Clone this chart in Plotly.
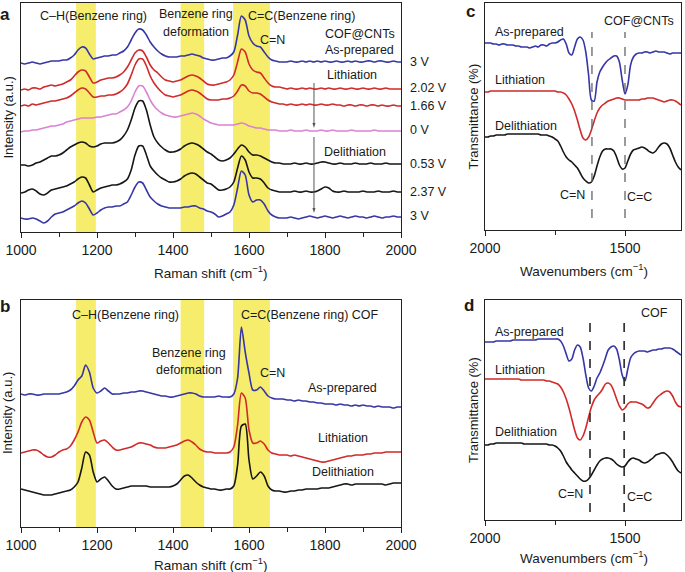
import plotly.graph_objects as go

# x grids
raman_shift = list(range(1000, 2001, 10))
wavenumber = list(range(2000, 1299, -10))

# ---- panel a: COF@CNTs Raman, stacked (a.u.)
a_3v_start = [169,168,169,170,169,168,169,170,171,171,
              171,172,172,174,177,182,185,184,178,173,
              174,175,176,176,177,177,179,181,185,192,
              199,203,202,197,190,185,181,178,176,175,
              175,175,176,176,177,178,177,176,174,173,
              172,172,173,174,174,176,180,197,216,212,
              196,189,186,185,180,175,172,171,170,170,
              170,171,170,170,171,170,171,170,171,170,
              171,170,170,171,170,170,171,170,171,170,
              170,171,171,170,171,171,170,170,171,170,
              170]
a_2v02 = [142,143,142,144,144,143,145,146,147,146,
          147,148,150,152,156,160,162,161,155,149,
          150,152,153,154,154,155,157,160,165,172,
          179,182,181,175,167,162,159,155,152,151,
          150,151,152,154,156,157,156,154,151,148,
          147,147,148,149,150,152,157,170,183,180,
          168,162,160,159,154,149,146,145,145,144,
          143,144,143,143,144,143,144,143,143,144,
          143,144,143,143,144,143,143,144,143,143,
          144,143,143,144,143,143,144,143,143,143,
          143]
a_1v66 = [126,127,126,128,127,128,129,130,131,131,
          132,133,134,136,139,142,144,143,139,135,
          135,136,136,137,137,138,140,143,148,157,
          167,173,173,166,156,149,144,140,137,136,
          135,136,137,139,141,142,141,139,136,133,
          132,132,132,133,133,134,136,141,147,146,
          141,139,139,138,135,132,130,129,128,128,
          127,128,127,127,128,127,128,127,127,128,
          127,127,128,127,127,126,127,127,126,127,
          127,126,127,127,126,127,126,126,127,126,
          126]
a_0v = [100,101,101,102,102,103,104,105,106,106,
        107,108,110,111,112,113,114,114,114,114,
        115,115,116,117,118,118,120,122,125,131,
        140,146,146,140,132,126,122,119,117,116,
        115,115,116,117,118,119,118,116,113,111,
        109,108,107,107,107,107,107,108,109,108,
        106,105,104,104,103,102,102,102,101,101,
        101,102,101,101,101,102,101,101,101,102,
        101,101,102,101,101,101,101,102,101,101,
        101,101,101,102,101,101,101,101,101,101,
        101]
a_0v53 = [67,67,66,67,69,70,72,74,76,76,
          77,79,82,85,87,89,90,89,86,85,
          86,88,89,89,89,90,92,96,102,112,
          124,131,131,122,107,95,89,85,82,80,
          80,81,83,86,88,89,88,86,83,80,
          78,75,72,71,72,74,78,83,87,85,
          80,77,77,76,74,72,70,69,69,68,
          68,68,69,68,68,69,68,68,69,70,
          70,69,68,68,69,68,68,68,69,68,
          68,68,69,68,68,68,69,68,68,68,
          68]
a_2v37 = [39,40,42,43,41,38,37,39,42,43,
          44,45,46,48,50,53,55,54,47,40,
          42,44,45,46,47,47,48,50,53,62,
          77,86,86,77,66,61,57,54,52,50,
          50,51,53,56,58,59,58,55,52,49,
          48,45,42,42,43,45,50,64,76,72,
          60,54,54,53,49,44,42,41,40,40,
          40,40,41,40,40,41,40,40,41,43,
          45,44,41,40,40,41,40,40,40,40,
          41,40,40,40,41,40,40,40,41,40,
          40]
a_3v_end = [14,13,13,14,13,11,9,11,15,18,
            19,20,22,24,26,29,31,29,23,17,
            19,22,24,25,25,26,26,28,30,37,
            45,50,49,42,35,31,28,26,25,24,
            24,24,24,25,25,26,26,24,23,21,
            20,18,15,16,18,20,27,44,61,57,
            37,30,32,32,28,21,17,15,14,14,
            14,15,14,13,14,15,16,15,14,15,
            16,15,14,15,16,15,14,15,16,15,
            15,14,15,16,15,14,15,15,16,15,
            15]
a_voltages = ["3 V", "2.02 V", "1.66 V", "0 V", "0.53 V", "2.37 V", "3 V"]

# ---- panel b: COF Raman
b_asprep = [133,132,133,133,132,132,133,133,133,133,
            133,134,135,137,141,147,151,162,155,139,
            134,136,139,136,133,133,133,134,134,135,
            135,136,136,135,134,133,132,131,131,130,
            130,131,132,133,134,134,133,131,130,130,
            130,130,131,130,130,130,133,149,200,175,
            154,137,137,140,136,131,129,128,128,128,
            127,127,126,127,126,126,125,125,124,124,
            123,123,123,122,123,122,122,121,122,121,
            122,121,121,120,121,120,120,120,119,120,
            120]
b_lith = [74,75,76,77,77,75,72,70,70,72,
          75,77,78,81,87,95,105,110,107,95,
          84,86,87,84,80,77,77,78,79,80,
          82,84,84,83,82,80,79,79,79,80,
          81,82,84,86,87,85,82,78,76,75,
          75,74,74,74,74,75,80,102,134,129,
          97,84,84,86,83,77,74,73,72,72,
          72,71,72,71,70,69,68,67,66,65,
          65,66,67,68,69,70,71,71,72,72,
          72,73,73,74,74,74,75,75,75,75,
          75]
b_delith = [38,37,36,35,34,33,32,32,32,33,
            34,35,36,37,40,45,59,75,72,55,
            45,48,50,46,41,38,38,39,40,41,
            41,41,41,41,40,40,40,40,40,40,
            41,43,47,51,52,49,45,42,40,39,
            38,38,37,37,38,38,41,62,101,103,
            67,48,51,55,51,41,37,36,36,35,
            35,36,36,37,37,38,38,38,38,39,
            39,39,40,41,42,43,43,42,43,43,
            43,43,43,43,43,43,42,43,44,44,
            44]

# ---- panel c: COF@CNTs FTIR
c_asprep = [187,187,187,186,186,185,186,186,185,185,
            185,184,184,183,183,183,182,183,184,183,
            185,185,184,186,187,187,188,190,191,186,
            177,175,183,191,193,190,178,155,130,129,
            148,158,163,167,170,172,174,174,168,150,
            136,145,165,173,176,177,177,178,178,177,
            178,179,178,178,178,177,176,177,177,177,
            177]
c_lith = [138,138,139,139,139,139,139,139,139,139,
          139,139,139,139,139,139,139,139,139,139,
          139,139,139,139,139,139,138,138,137,135,
          131,126,119,110,100,92,90,93,100,109,
          117,122,125,127,129,130,131,132,132,131,
          130,130,130,130,130,130,131,131,132,132,
          132,131,130,129,128,129,130,130,129,127,
          125]
c_delith = [93,93,94,94,95,95,95,95,96,96,
            96,96,96,96,96,96,96,96,96,96,
            95,95,95,94,93,91,89,84,78,73,
            70,68,65,62,57,52,49,47,48,54,
            64,73,79,81,81,81,79,73,65,61,
            62,69,76,80,81,82,83,82,80,78,
            77,79,83,86,87,86,82,75,68,63,
            60]

# ---- panel d: COF FTIR
d_asprep = [178,178,178,178,179,179,179,179,179,179,
            180,180,180,180,180,180,180,180,180,181,
            181,181,181,181,181,181,181,179,174,166,
            159,161,170,175,173,162,145,132,129,134,
            142,147,154,162,170,173,174,171,160,145,
            139,151,162,166,168,169,169,169,168,169,
            170,170,171,171,172,172,172,171,169,167,
            165]
d_lith = [141,141,141,141,141,141,141,141,141,141,
          141,141,141,140,140,140,140,140,140,140,
          140,140,139,139,138,137,136,133,128,121,
          112,101,90,82,80,84,92,103,113,120,
          124,127,131,136,137,135,129,121,114,110,
          112,116,118,118,118,117,116,114,112,113,
          117,121,124,126,128,129,128,124,118,114,
          113]
d_delith = [75,75,76,76,77,77,77,77,77,77,
            77,77,77,77,76,76,76,76,76,76,
            76,76,76,75,75,74,72,69,64,58,
            54,50,47,44,41,39,39,41,45,50,
            55,59,61,62,62,61,59,56,54,53,
            54,58,61,62,61,60,58,57,58,60,
            62,65,66,67,67,65,62,58,53,49,
            47]

raman_bands = [(1145, 1197), (1420, 1482), (1558, 1655)]
ir_lines_c = [1618, 1500]
ir_lines_d = [1625, 1503]

for s in [a_3v_start, a_2v02, a_1v66, a_0v, a_0v53, a_2v37, a_3v_end, b_asprep, b_lith, b_delith]:
    assert len(s) == len(raman_shift), len(s)
for s in [c_asprep, c_lith, c_delith, d_asprep, d_lith, d_delith]:
    assert len(s) == len(wavenumber), len(s)

BLUE = '#3636a6'
RED = '#d02a2a'
PINK = '#d983d2'
BLACK = '#161616'
YELLOW = '#f6ed6c'
FONT = 'Arial, Liberation Sans, Helvetica, sans-serif'

fig = go.Figure()

def add_line(x, y, color, xa, ya):
    fig.add_trace(go.Scatter(x=x, y=y, mode='lines', xaxis=xa, yaxis=ya,
                             line=dict(color=color, width=1.6, shape='spline', smoothing=0.7),
                             hoverinfo='skip'))

for y, c in zip([a_3v_start, a_2v02, a_1v66, a_0v, a_0v53, a_2v37, a_3v_end],
                [BLUE, RED, RED, PINK, BLACK, BLACK, BLUE]):
    add_line(raman_shift, y, c, 'x', 'y')
for y, c in zip([b_asprep, b_lith, b_delith], [BLUE, RED, BLACK]):
    add_line(raman_shift, y, c, 'x2', 'y2')
for y, c in zip([c_asprep, c_lith, c_delith], [BLUE, RED, BLACK]):
    add_line(wavenumber, y, c, 'x3', 'y3')
for y, c in zip([d_asprep, d_lith, d_delith], [BLUE, RED, BLACK]):
    add_line(wavenumber, y, c, 'x4', 'y4')

W, H = 685, 572
def px(v):
    return v / W
def py(v):
    return 1 - v / H

shapes = []
for xr in ['x', 'x2']:
    for lo, hi in raman_bands:
        shapes.append(dict(type='rect', xref=xr, yref=xr.replace('x', 'y') + ' domain',
                           x0=lo, x1=hi, y0=0, y1=1, fillcolor=YELLOW,
                           line=dict(width=0), layer='below'))
for w in ir_lines_c:
    shapes.append(dict(type='line', xref='x3', yref='y3', x0=w, x1=w, y0=12, y1=198,
                       line=dict(color='#666', width=1.3, dash='dash')))
for w in ir_lines_d:
    shapes.append(dict(type='line', xref='x4', yref='y4', x0=w, x1=w, y0=8, y1=202,
                       line=dict(color='#333', width=1.7, dash='dash')))
# the two gray arrows of panel a
for top, bot in [(149, 104), (95, 19)]:
    shapes.append(dict(type='line', xref='x', yref='y', x0=1771, x1=1771, y0=top, y1=bot + 4,
                       line=dict(color='#555', width=1)))
    shapes.append(dict(type='path', xref='x', yref='y',
                       path='M 1767 %d L 1775 %d L 1771 %d Z' % (bot + 5, bot + 5, bot),
                       fillcolor='#555', line=dict(width=0)))

anns = []
def ann(text, x, y, xref, yref, xanchor='center', size=12.5, **kw):
    anns.append(dict(text=text, x=x, y=y, xref=xref, yref=yref, xanchor=xanchor,
                     yanchor='middle', showarrow=False, font=dict(size=size, color='#1a1a1a'), **kw))

# panel a text
ann('C–H(Benzene ring)', 1192, 216, 'x', 'y')
ann('Benzene ring', 1461, 218, 'x', 'y')
ann('deformation', 1461, 200, 'x', 'y')
ann('C=C(Benzene ring)', 1592, 216, 'x', 'y', xanchor='left')
ann('C=N', 1661, 192, 'x', 'y')
ann('COF@CNTs', 1990, 198, 'x', 'y', xanchor='right')
ann('As-prepared', 1986, 182, 'x', 'y', xanchor='right')
ann('Lithiation', 1871, 157, 'x', 'y')
ann('Delithiation', 1879, 80, 'x', 'y')
# voltage labels sit right of the frame (outside the x range -> paper coords)
for lab, yy in zip(a_voltages, [62, 88, 106, 130, 164, 192, 216]):
    ann(lab, px(408), py(yy), 'paper', 'paper', xanchor='left')

# panel b text
ann('C–H(Benzene ring)', 1274, 212, 'x2', 'y2')
ann('C=C(Benzene ring) COF', 1574, 212, 'x2', 'y2', xanchor='left')
ann('Benzene ring', 1443, 174, 'x2', 'y2')
ann('deformation', 1443, 157, 'x2', 'y2')
ann('C=N', 1663, 154, 'x2', 'y2')
ann('As-prepared', 1845, 139, 'x2', 'y2')
ann('Lithiation', 1847, 89, 'x2', 'y2')
ann('Delithiation', 1847, 55, 'x2', 'y2')

# panel c text
ann('COF@CNTs', 1450, 209, 'x3', 'y3')
ann('As-prepared', 1971, 198, 'x3', 'y3', xanchor='left')
ann('Lithiation', 1971, 150, 'x3', 'y3', xanchor='left')
ann('Delithiation', 1971, 104, 'x3', 'y3', xanchor='left')
ann('C=N', 1686, 35, 'x3', 'y3')
ann('C=C', 1450, 33, 'x3', 'y3')

# panel d text
ann('COF', 1393, 207, 'x4', 'y4')
ann('As-prepared', 1971, 188, 'x4', 'y4', xanchor='left')
ann('Lithiation', 1973, 150, 'x4', 'y4', xanchor='left')
ann('Delithiation', 1973, 88, 'x4', 'y4', xanchor='left')
ann('C=N', 1696, 26, 'x4', 'y4')
ann('C=C', 1450, 23, 'x4', 'y4')

# axis titles and panel letters
ann('Intensity (a.u.)', px(8), py(117.5), 'paper', 'paper', size=13, textangle=-90)
ann('Intensity (a.u.)', px(8), py(413), 'paper', 'paper', size=13, textangle=-90)
ann('Transmittance (%)', px(473), py(116.5), 'paper', 'paper', size=13, textangle=-90)
ann('Transmittance (%)', px(473), py(410), 'paper', 'paper', size=13, textangle=-90)
ann('Raman shift (cm<sup>−1</sup>)', px(211), py(272), 'paper', 'paper', size=13.5)
ann('Raman shift (cm<sup>−1</sup>)', px(211), py(564), 'paper', 'paper', size=13.5)
ann('Wavenumbers (cm<sup>−1</sup>)', px(584), py(270), 'paper', 'paper', size=13.5)
ann('Wavenumbers (cm<sup>−1</sup>)', px(584), py(557), 'paper', 'paper', size=13.5)
ann('<b>a</b>', px(5), py(14), 'paper', 'paper', size=17)
ann('<b>b</b>', px(5), py(306), 'paper', 'paper', size=17)
ann('<b>c</b>', px(470), py(12), 'paper', 'paper', size=17)
ann('<b>d</b>', px(469), py(305), 'paper', 'paper', size=17)

frame = dict(showline=True, mirror=True, linecolor='#222', linewidth=1.3,
             showgrid=False, zeroline=False, automargin=False)
raman_x = dict(frame, range=[1000, 2000], tick0=1000, dtick=200, ticks='outside', ticklen=5,
               tickwidth=1.2, tickcolor='#222', tickfont=dict(size=14),
               minor=dict(ticks='outside', ticklen=4, dtick=100, tickcolor='#222'))
ir_x = dict(frame, range=[2000, 1300], tick0=0, dtick=500, ticks='outside', ticklen=5,
            tickwidth=1.2, tickcolor='#222', tickfont=dict(size=14),
            minor=dict(ticks='outside', ticklen=4, dtick=250, tickcolor='#222'))
no_y = dict(frame, showticklabels=False, ticks='')

xd_left = [px(21), px(401)]
xd_right = [px(485), px(681)]

fig.update_layout(
    width=W, height=H, margin=dict(l=0, r=0, t=0, b=0, autoexpand=False),
    plot_bgcolor='white', paper_bgcolor='white', showlegend=False,
    font=dict(family=FONT, size=13, color='#1a1a1a'),
    xaxis=dict(raman_x, domain=xd_left, anchor='y'),
    yaxis=dict(no_y, domain=[py(232), py(3)], anchor='x', range=[0, 229]),
    xaxis2=dict(raman_x, domain=xd_left, anchor='y2'),
    yaxis2=dict(no_y, domain=[py(527), py(300)], anchor='x2', range=[0, 227]),
    xaxis3=dict(ir_x, domain=xd_right, anchor='y3'),
    yaxis3=dict(no_y, domain=[py(230), py(3)], anchor='x3', range=[0, 227]),
    xaxis4=dict(ir_x, domain=xd_right, anchor='y4'),
    yaxis4=dict(no_y, domain=[py(520), py(300)], anchor='x4', range=[0, 220]),
    shapes=shapes, annotations=anns,
)

# page body has an 8px margin by default; drop it so the figure sits at 0,0
fig.write_html("out.html", config={'displayModeBar': False},
               post_script="document.body.style.margin='0';document.body.style.overflow='hidden';")
